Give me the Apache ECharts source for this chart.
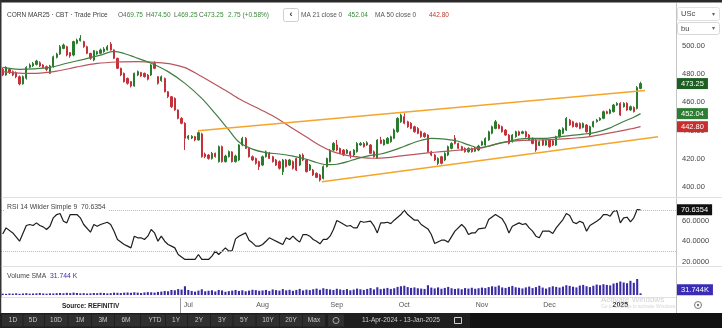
<!DOCTYPE html>
<html><head><meta charset="utf-8">
<script src="https://cdn.jsdelivr.net/npm/echarts@6/dist/echarts.min.js"></script>
<style>html,body{margin:0;padding:0;background:#fff;overflow:hidden}#c{width:722px;height:328px}</style>
</head><body><div id="c"></div>
<script>
// ---------- DATA ----------
const opens = [
483.3,479.3,483.3,481.7,481.0,478.1,473.0,477.0,484.7,485.7,
486.8,488.0,486.4,485.2,480.5,485.2,491.8,494.1,498.1,499.3,
495.1,493.4,501.7,503.5,502.9,499.3,494.6,489.9,494.1,494.6,
495.8,497.0,501.2,497.0,491.1,484.0,480.5,476.9,474.6,471.5,
479.3,481.0,480.5,479.3,479.3,487.5,478.1,475.3,476.9,467.5,
464.0,462.8,454.6,448.7,445.2,434.6,434.8,435.8,433.4,437.7,
423.5,422.8,420.4,424.0,418.1,428.7,418.1,421.6,425.0,418.1,
419.3,
429.9,434.6,427.5,421.6,420.4,418.1,415.7,421.6,424.0,421.6,
419.3,418.1,411.0,419.3,415.7,418.1,420.4,415.7,422.8,419.3,
412.2,412.2,409.9,408.7,406.3,414.6,418.1,426.3,429.9,427.5,
426.3,424.0,425.1,422.8,425.1,429.9,431.0,429.9,429.9,425.1,
420.4,433.4,429.9,431.0,432.2,434.6,439.3,446.3,449.9,446.3,
445.2,442.8,441.6,439.3,438.1,436.9,425.1,422.8,416.9,421.6,
419.3,422.8,427.5,434.6,431.0,428.7,427.5,425.1,427.5,425.5,
426.3,429.8,429.8,433.4,438.1,441.6,444.0,442.8,440.4,436.9,
432.2,435.7,439.2,438.1,439.2,436.9,434.5,433.4,429.6,433.4,
429.8,433.4,432.9,429.8,435.7,438.1,440.4,447.5,446.3,445.1,
445.1,442.3,444.0,436.9,442.8,446.3,447.5,448.7,453.4,452.2,
453.4,458.1,459.3,456.9,459.3,454.6,456.4,455.7,469.75];
const closes = [
479.3,484.7,481.0,479.3,478.1,473.0,478.1,484.7,486.4,487.5,
489.2,485.7,484.7,483.3,485.7,492.2,494.1,499.3,500.5,493.4,
492.7,502.9,504.0,505.2,499.3,494.6,491.1,496.5,495.8,497.0,
497.7,499.3,497.0,491.1,484.0,479.3,474.6,473.4,471.5,480.5,
481.7,478.6,478.1,476.3,486.4,484.0,473.4,478.1,467.5,464.0,
456.9,454.6,448.7,445.2,434.6,436.2,436.0,433.4,438.6,421.6,
421.6,420.4,424.0,421.6,428.7,418.1,422.1,425.2,418.1,422.1,
429.9,
434.6,427.5,421.6,419.3,416.9,414.6,421.6,425.1,420.4,418.1,
415.7,413.4,419.3,414.6,419.3,413.4,412.2,422.8,419.3,411.0,
415.7,408.7,407.0,405.1,414.6,420.4,426.3,431.0,426.3,424.0,
422.8,426.3,422.8,426.3,431.0,431.0,428.7,431.5,424.0,421.6,
433.4,431.0,433.4,434.6,435.7,440.5,448.7,451.0,445.2,442.8,
441.6,439.3,438.1,435.7,435.7,425.1,422.8,419.3,420.4,416.9,
424.0,428.7,431.0,431.0,427.5,426.3,425.1,427.5,425.1,427.7,
429.1,432.2,434.5,439.2,442.8,446.3,441.6,439.2,436.9,431.0,
436.9,439.2,436.9,439.2,435.7,433.4,431.0,426.3,432.2,429.8,
432.9,428.7,429.8,435.7,440.4,441.6,448.7,444.0,442.8,442.8,
441.6,445.1,439.2,442.8,446.3,447.5,448.7,453.4,452.2,454.6,
458.1,459.3,451.0,459.3,454.6,456.9,453.4,470.5,473.25];
const highs = [
484.5,485.5,484.0,482.5,481.8,479.0,479.0,485.5,487.5,488.5,
490.0,489.0,487.0,486.0,486.5,493.0,495.0,500.5,501.5,500.0,
495.5,503.5,505.0,507.5,503.5,500.0,495.0,497.0,496.5,498.0,
499.0,500.5,502.5,497.5,491.5,484.5,481.0,477.5,475.0,481.0,
482.5,481.5,481.0,480.0,487.0,489.0,478.5,479.0,477.5,468.0,
464.5,463.5,455.0,449.5,446.0,437.0,436.8,436.3,439.5,438.5,
424.5,423.5,425.0,424.5,429.5,429.5,423.0,426.0,425.5,423.0,
430.5,
435.7,435.5,428.0,422.5,421.0,418.8,422.5,426.0,425.0,422.2,
420.0,419.0,420.0,420.0,420.0,419.0,421.0,423.5,424.0,420.0,
416.5,413.0,410.5,409.5,415.5,421.0,427.0,432.0,433.4,428.0,
427.0,427.0,425.8,427.0,432.0,432.0,432.0,432.5,430.5,426.0,
434.0,435.7,434.0,435.5,436.5,441.5,449.5,452.0,452.2,447.0,
446.0,443.5,442.5,440.0,438.8,437.5,425.8,423.5,421.2,422.2,
424.8,429.5,431.8,436.9,431.5,429.3,428.2,428.2,428.0,428.5,
430.0,432.9,435.3,440.0,443.6,447.5,444.8,443.5,441.0,437.6,
437.6,440.0,440.0,440.0,440.0,437.6,435.2,434.0,433.0,434.0,
433.6,434.0,433.6,436.4,441.2,442.4,449.6,448.3,447.0,445.8,
445.8,445.8,444.7,443.5,447.0,448.3,449.5,454.2,454.2,455.4,
458.9,460.1,460.1,460.1,460.1,457.7,457.2,471.5,474.5];
const lows = [
478.5,478.8,480.0,478.5,477.0,472.0,472.5,476.0,484.0,485.0,
486.0,485.0,484.0,482.0,480.0,484.5,491.0,493.5,497.5,492.5,
491.5,492.5,501.0,503.0,498.5,494.0,490.0,489.0,493.5,494.0,
495.0,496.5,496.5,490.5,483.5,478.5,474.0,472.5,470.5,471.0,
478.5,478.0,477.5,475.5,478.5,483.5,472.5,474.5,467.0,463.0,
456.0,454.0,448.0,444.5,426.4,433.5,434.0,432.5,433.0,421.0,
420.5,419.5,419.5,421.0,417.5,417.5,417.5,421.0,417.5,417.5,
418.5,
429.0,427.0,421.0,418.5,416.0,412.2,415.0,421.0,420.0,417.5,
415.0,412.5,408.7,414.0,415.0,412.5,411.5,415.0,418.5,410.5,
411.5,408.0,406.5,404.0,405.5,414.0,417.5,425.5,425.5,423.5,
422.0,423.5,420.4,422.0,424.5,429.3,428.0,429.3,423.5,421.0,
420.0,430.5,429.5,430.5,431.5,434.0,438.5,445.5,444.5,442.0,
441.0,438.5,437.5,435.0,435.0,424.5,422.0,418.5,415.7,416.2,
418.5,422.0,426.8,430.3,427.0,425.7,424.5,424.5,424.5,425.0,
425.5,429.3,429.2,432.8,437.5,441.0,441.0,438.6,436.3,430.3,
431.6,435.0,436.3,437.5,435.0,432.8,430.4,425.1,429.0,429.2,
429.3,428.0,429.2,429.2,435.1,437.5,439.8,443.4,442.2,442.2,
441.0,441.6,438.6,436.3,442.2,445.7,446.9,448.1,451.6,451.6,
452.8,457.5,450.4,456.3,454.0,454.0,452.8,455.0,469.25];
// volume, thousands of contracts
const volumes = [
8,7,9,8,10,7,9,11,8,9,10,12,9,8,
10,9,11,12,10,13,11,14,12,10,11,9,10,12,11,13,12,10,11,14,13,12,
14,15,13,16,14,12,15,17,16,14,18,20,24,22,30,28,35,32,52,
30,24,20,26,34,22,25,28,21,30,27,19,23,26,30,24,28,22,26,31,29,25,
27,30,24,33,29,26,35,28,31,25,30,36,27,32,29,34,38,31,40,36,33,30,
37,33,30,35,28,32,38,34,30,36,41,33,46,35,38,42,36,40,48,52,
55,47,42,45,40,38,36,58,44,39,45,37,42,48,40,36,39,34,41,38,43,37,40,
44,41,47,52,49,56,45,42,48,54,46,43,39,45,50,41,47,55,44,38,
46,52,48,44,50,58,54,49,45,56,60,52,47,55,62,58,64,60,57,68,72,
80,74,70,84,72,95,10];
const volumeSma = 31.744;
// moving averages read at bar index points [bar, value]
const ma21Points = [[0,484.7],[5,483.3],[9,483.6],[14,484.7],[19,487.6],[24,490.4],[29,493.4],[33,496.0],[36,494.5],[39,492.0],[44,487.6],[49,481.7],[54,473.4],[59,462.8],[63,452.0],[67,440.5],[70,432.0],[74,427.0],[78,424.5],[82,423.5],[86,422.0],[90,419.8],[93,417.5],[96,416.0],[99,416.3],[102,418.0],[105,420.3],[109,422.5],[112,423.5],[115,425.5],[119,429.0],[123,432.5],[127,434.5],[131,434.0],[135,432.5],[138,430.0],[141,428.0],[144,429.0],[147,431.0],[150,432.5],[153,434.0],[156,434.5],[160,434.5],[164,435.5],[168,436.5],[172,437.5],[176,439.0],[180,442.0],[184,446.5],[187,449.5],[189,452.04]];
const ma50Points = [[0,481.7],[6,480.5],[10,480.5],[16,482.0],[22,485.0],[28,487.5],[34,488.5],[40,488.7],[46,488.0],[50,487.0],[54,484.5],[58,479.5],[62,474.0],[66,468.5],[70,462.5],[75,456.5],[80,450.5],[85,443.0],[90,435.5],[94,429.5],[98,425.0],[102,422.5],[106,421.2],[110,420.5],[114,421.0],[118,422.2],[122,423.2],[126,424.3],[130,425.2],[134,426.0],[138,426.8],[142,427.8],[146,430.5],[150,432.2],[154,433.2],[158,433.4],[162,433.6],[166,434.2],[170,434.8],[174,435.8],[178,437.5],[182,439.3],[186,441.2],[189,442.80]];
const rsiPoints = [[0,47.0],[1,53.0],[3,48.1],[5,40.0],[7,55.3],[8,56.3],[9,55.3],[10,57.9],[11,55.3],[12,54.0],[13,51.4],[14,54.6],[15,62.8],[16,66.0],[17,67.0],[18,59.5],[19,57.9],[20,66.0],[22,66.0],[23,62.8],[24,56.3],[26,48.8],[27,56.3],[28,54.6],[29,56.3],[31,58.5],[32,56.3],[33,49.8],[34,41.7],[36,36.8],[37,35.2],[38,33.5],[39,44.9],[40,43.3],[41,43.3],[42,41.7],[43,44.9],[44,51.4],[45,48.1],[46,40.0],[47,44.9],[48,40.0],[49,36.8],[50,35.2],[51,33.5],[52,27.0],[54,22.2],[55,22.2],[57,22.2],[58,27.0],[59,22.2],[60,22.2],[61,22.2],[62,25.4],[63,30.3],[64,27.0],[65,30.3],[66,33.5],[67,30.3],[68,30.9],[69,42.3],[70,44.9],[72,48.1],[73,41.0],[74,38.4],[75,35.2],[76,35.2],[77,36.8],[78,40.0],[79,43.3],[80,41.7],[82,38.4],[83,36.8],[84,43.3],[85,41.7],[86,44.9],[87,41.7],[88,39.1],[89,46.5],[90,46.5],[91,44.9],[92,41.7],[93,40.0],[94,37.5],[95,41.7],[96,41.7],[97,44.9],[98,51.4],[99,60.2],[100,58.5],[102,54.6],[103,55.3],[104,53.0],[105,53.0],[106,59.5],[107,58.5],[109,59.5],[110,55.0],[111,48.1],[112,57.9],[113,57.9],[114,58.5],[115,57.2],[116,60.5],[118,66.0],[119,70.3],[120,66.0],[122,60.5],[123,60.5],[124,56.3],[126,52.0],[127,46.5],[128,37.8],[130,41.0],[131,41.0],[132,39.1],[134,49.8],[136,56.3],[137,53.0],[138,46.5],[139,48.1],[140,48.1],[141,52.0],[143,53.0],[144,61.1],[146,66.0],[148,61.8],[149,56.3],[150,48.1],[151,54.6],[153,57.9],[154,56.3],[155,57.2],[156,53.0],[157,49.8],[158,44.9],[159,43.3],[160,49.8],[162,49.8],[163,47.5],[164,53.0],[166,61.1],[167,67.0],[168,65.0],[169,58.5],[170,57.2],[171,59.5],[172,57.9],[173,49.8],[174,55.3],[176,59.5],[177,61.8],[178,66.0],[179,66.0],[180,64.4],[181,69.3],[182,69.9],[183,57.9],[184,62.8],[185,63.4],[186,58.9],[187,62.8],[188,70.9],[189,70.6354]];
const upperTrend = [[57.9,440.0],[190.3,468.4]];
const lowerTrend = [[94.6,404.0],[194.2,435.7]];
const priceTicks = [400,420,440,460,480,500];
const rsiTicks = [20,40,60];
const rsiLevels = [70,30];
const monthLabels = {'2024-07':'Jul','2024-08':'Aug','2024-09':'Sep','2024-10':'Oct','2024-11':'Nov','2024-12':'Dec','2025-01':'2025'};
const holidays = ['2024-05-27','2024-06-19','2024-07-04','2024-09-02','2024-11-28','2024-12-25','2025-01-01','2025-01-09'];
const rangeButtons = ['1D','5D','10D','1M','3M','6M','YTD','1Y','2Y','3Y','5Y','10Y','20Y','Max'];

// ---------- build ----------
const SLOTS = 200;
const dates = [];
{ let d = new Date(Date.UTC(2024,3,11));
  while (dates.length < SLOTS) {
    const s = d.toISOString().slice(0,10), w = d.getUTCDay();
    if (w !== 0 && w !== 6 && holidays.indexOf(s) < 0) dates.push(s);
    d.setUTCDate(d.getUTCDate()+1);
  } }
const labelIdx = new Set();
dates.forEach((s,i)=>{ if (i>0 && s.slice(0,7)!==dates[i-1].slice(0,7) && monthLabels[s.slice(0,7)]) labelIdx.add(i); });
const N = closes.length;
const candleData = opens.map((o,i)=>[o, closes[i], lows[i], highs[i]]);
const last = N-1;
const chg = closes[last]-closes[last-1];
const pct = chg/closes[last-1]*100;
const rsiLast = rsiPoints[rsiPoints.length-1][1];
const ma21Last = ma21Points[ma21Points.length-1][1];
const ma50Last = ma50Points[ma50Points.length-1][1];

const FONT = '"Liberation Sans", Arial, sans-serif';
const F = (px,b)=>(b?'bold ':'')+px+'px '+FONT;
const UP='#2b7b2e', DOWN='#c5313b', GREEN='#3a8a3a', RED='#c0392b';
const mctx = document.createElement('canvas').getContext('2d');
const tw = (t,font)=>{ mctx.font=font; return mctx.measureText(t).width; };

const G = [];
const txt=(x,y,t,c,font,align)=>G.push({type:'text',x,y,z:100,style:{text:t,fill:c,font,align:align||'left',verticalAlign:'middle'}});
const rect=(x,y,w,h,fill,stroke,r,z)=>G.push({type:'rect',z:z||99,shape:{x,y,width:w,height:h,r:r||0},style:{fill:fill||'none',stroke:stroke||null,lineWidth:1}});
const line=(x1,y1,x2,y2,c)=>G.push({type:'line',z:98,shape:{x1,y1,x2,y2},style:{stroke:c,lineWidth:1}});
const seq=(x,y,parts,font)=>{ parts.forEach(([t,c])=>{ txt(x,y,t,c,font); x+=tw(t,font); }); };

// frame
rect(0,0,722,2.5,'#2a2a2a',null,0,97);
rect(0,0,1.5,313,'#333',null,0,97);
// header
const HF=F(6.5);
txt(7,15,'CORN MAR25 · CBT · Trade Price','#3c3c3c',HF);
seq(118,15,[['O','#555'],[opens[last].toFixed(2),GREEN]],HF);
seq(146,15,[['H','#555'],[highs[last].toFixed(2),GREEN]],HF);
seq(174,15,[['L','#555'],[lows[last].toFixed(2),GREEN]],HF);
seq(199,15,[['C','#555'],[closes[last].toFixed(2),GREEN]],HF);
txt(228,15,chg.toFixed(2)+' (+'+pct.toFixed(2)+'%)',GREEN,HF);
rect(283.5,8.5,15,13,'#fff','#cfcfcf',2);
txt(291,14.5,'‹','#333',F(9,true),'center');
txt(301,15,'MA 21 close 0','#555',HF);
txt(348,15,ma21Last.toFixed(2),GREEN,HF);
txt(375,15,'MA 50 close 0','#555',HF);
txt(429,15,ma50Last.toFixed(2),RED,HF);
// unit selectors
rect(677.5,7.5,42,13,'#fff','#e0e0e0',2);
txt(681,14,'USc','#444',F(7.5)); txt(713,14,'▾','#666',F(6),'center');
rect(677.5,22.5,42,12,'#fff','#d8d8d8',2);
txt(681,28.5,'bu','#444',F(7.5)); txt(713,28.5,'▾','#666',F(6),'center');
// separators
line(676.5,3,676.5,313,'#c4c4c4');
line(1.5,197.5,722,197.5,'#e0e0e0');
line(1.5,266.5,722,266.5,'#e0e0e0');
line(1.5,297.5,676,297.5,'#e0e0e0');
// pane labels
rect(5,203,103,9,'#fff',null,0,99);
seq(7,207.5,[['RSI 14 Wilder Simple 9  ','#444'],[rsiLast.toFixed(4),'#444']],F(6.8));
seq(7,276,[['Volume SMA  ','#444'],[volumeSma.toFixed(3)+' K','#3b2ca6']],F(6.8));
// source box
rect(1.5,298,178.5,15,'#fff',null,0,99);
line(180.5,298,180.5,313,'#9a9a9a');
txt(62,306.5,'Source: REFINITIV','#222',F(6.5,true));
// watermark & settings icon
txt(601,300,'Activate Windows','#d2d2d2',F(8));
txt(601,307,'Go to Settings to activate Windows.','#d6d6d6',F(4.8));
G.push({type:'circle',z:100,shape:{cx:698,cy:305,r:3.5},style:{fill:'none',stroke:'#777',lineWidth:1}});
G.push({type:'circle',z:100,shape:{cx:698,cy:305,r:1.2},style:{fill:'#777'}});
// bottom toolbar
rect(0,313,722,15,'#121212',null,0,97);
rect(0,313,470,15,'#1f1f1f',null,0,98);
const bc=[13,33,56,80,103,126,155,176,199,222,244,268,291,314];
rangeButtons.forEach((b,i)=>{
  const l = i===0 ? 2 : (bc[i-1]+bc[i])/2+0.5;
  const r = i===bc.length-1 ? bc[i]+11 : (bc[i]+bc[i+1])/2-0.5;
  rect(l,314.5,r-l,12,'#2f2f2f',null,0,99);
  txt(bc[i],320.5,b,'#c9c9c9',F(6.5),'center');
});
rect(328,314.5,16,12,'#2f2f2f',null,0,99);
G.push({type:'circle',z:100,shape:{cx:336,cy:320.5,r:3},style:{fill:'none',stroke:'#aaa',lineWidth:1}});
txt(362,320.5,'11-Apr-2024 - 13-Jan-2025','#cfcfcf',F(6.5));
rect(454.5,317.5,7,6,'none','#cfcfcf',0,100);

const axisLab = {color:'#444',fontSize:7.5,fontFamily:FONT};
const boxLabel = (bg,text)=>({show:true,position:'end',distance:1,formatter:()=>text,color:'#fff',backgroundColor:bg,padding:[2,4,1,4],fontSize:7.5,fontFamily:FONT});
const hidden = {color:'rgba(0,0,0,0)',width:0};

const option = {
  animation:false,
  backgroundColor:'#fff',
  grid:[
    {left:1,right:46,top:30,height:167},
    {left:1,right:46,top:198,height:68},
    {left:1,right:46,top:268,height:27}
  ],
  xAxis:[
    {type:'category',gridIndex:0,data:dates,show:false},
    {type:'value',gridIndex:0,min:-0.5,max:SLOTS-0.5,show:false},
    {type:'value',gridIndex:1,min:-0.5,max:SLOTS-0.5,show:false},
    {type:'category',gridIndex:2,data:dates,axisLine:{show:false},axisTick:{show:false},splitLine:{show:false},
     axisLabel:{interval:(i)=>labelIdx.has(i),formatter:(v)=>{const m=monthLabels[v.slice(0,7)]||'';return m.length===4?'{y|'+m+'}':m;},
       color:'#555',fontSize:7,margin:7,fontFamily:FONT,rich:{y:{fontWeight:'bold',color:'#333',fontSize:7,fontFamily:FONT}}}}
  ],
  yAxis:[
    {type:'value',gridIndex:0,position:'right',min:393.15,max:511.09,axisLine:{show:false},axisTick:{show:false},splitLine:{show:false},
     axisLabel:Object.assign({customValues:priceTicks,formatter:v=>v.toFixed(2),margin:6},axisLab)},
    {type:'value',gridIndex:1,position:'right',min:15.81,max:82.15,axisLine:{show:false},axisTick:{show:false},splitLine:{show:false},
     axisLabel:Object.assign({customValues:rsiTicks,formatter:v=>v.toFixed(4),margin:6},axisLab)},
    {type:'value',gridIndex:2,position:'right',min:0,max:160,show:false}
  ],
  series:[
    {type:'candlestick',xAxisIndex:0,yAxisIndex:0,data:candleData,barWidth:'55%',
     itemStyle:{color:UP,color0:DOWN,borderColor:UP,borderColor0:DOWN,borderWidth:1},
     markLine:{silent:true,symbol:['none','none'],lineStyle:hidden,label:boxLabel('#1d5e22',closes[last].toFixed(2)),data:[{yAxis:closes[last]}]}},
    {type:'line',xAxisIndex:1,yAxisIndex:0,data:ma50Points,smooth:0.3,showSymbol:false,lineStyle:{color:'#b8555d',width:1.2},
     markLine:{silent:true,symbol:['none','none'],lineStyle:hidden,label:boxLabel('#c62f2f',ma50Last.toFixed(2)),data:[{yAxis:ma50Last}]}},
    {type:'line',xAxisIndex:1,yAxisIndex:0,data:ma21Points,smooth:0.3,showSymbol:false,lineStyle:{color:'#3f7f3f',width:1.2},
     markLine:{silent:true,symbol:['none','none'],lineStyle:hidden,label:boxLabel('#2e7d32',ma21Last.toFixed(2)),data:[{yAxis:ma21Last}]}},
    {type:'line',xAxisIndex:1,yAxisIndex:0,data:upperTrend,showSymbol:false,lineStyle:{color:'#f4a52a',width:1.5}},
    {type:'line',xAxisIndex:1,yAxisIndex:0,data:lowerTrend,showSymbol:false,lineStyle:{color:'#f4a52a',width:1.5}},
    {type:'line',xAxisIndex:2,yAxisIndex:1,data:rsiPoints,showSymbol:false,lineStyle:{color:'#1e1e1e',width:1.2},
     markLine:{silent:true,symbol:['none','none'],
       data:rsiLevels.map(v=>({yAxis:v,lineStyle:{type:'dotted',color:'#bdbdbd',width:1},label:{show:false}})).concat([
         {yAxis:rsiLast,lineStyle:hidden,label:boxLabel('#111',rsiLast.toFixed(4))}])}},
    {type:'bar',xAxisIndex:3,yAxisIndex:2,data:volumes,barWidth:'62%',itemStyle:{color:'#3b2ca6'},
     markLine:{silent:true,symbol:['none','none'],lineStyle:hidden,label:boxLabel('#3b2cb5',volumeSma.toFixed(3)+'K'),data:[{yAxis:volumeSma}]}}
  ],
  graphic:{elements:G}
};
const chart = echarts.init(document.getElementById('c'),null,{renderer:'canvas',width:722,height:328});
chart.setOption(option);
</script></body></html>
